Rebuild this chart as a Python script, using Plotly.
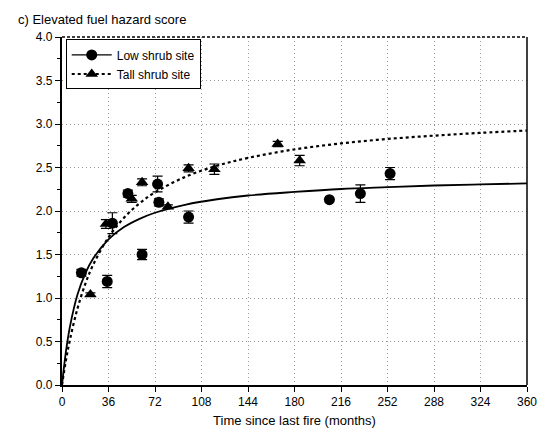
import plotly.graph_objects as go

# Observed site means (months since fire, elevated fuel hazard score, standard error)
low_months = [15, 35, 39, 51, 62, 74, 75, 98, 207, 231, 254]
low_score = [1.29, 1.19, 1.86, 2.20, 1.50, 2.31, 2.10, 1.93, 2.13, 2.20, 2.43]
low_err = [0.04, 0.07, 0.12, 0.04, 0.06, 0.09, 0.04, 0.07, 0.0, 0.10, 0.07]

tall_months = [22, 34, 54, 62, 82, 98, 118, 167, 184]
tall_score = [1.04, 1.85, 2.14, 2.33, 2.05, 2.49, 2.48, 2.77, 2.58]
tall_err = [0.02, 0.05, 0.04, 0.04, 0.02, 0.04, 0.06, 0.03, 0.06]

# Fitted accumulation curves
curve_months = [0, 3, 6, 12, 18, 24, 36, 48, 60, 72, 96, 120, 144, 180, 216, 252, 288, 324, 360]
low_fit = [0, 0.38, 0.66, 1.04, 1.28, 1.45, 1.675, 1.815, 1.91, 1.98, 2.074, 2.135, 2.178,
           2.219, 2.253, 2.274, 2.293, 2.306, 2.317]
tall_fit = [0, 0.28, 0.51, 0.88, 1.16, 1.378, 1.698, 1.922, 2.088, 2.214, 2.396, 2.52, 2.61,
            2.708, 2.777, 2.828, 2.866, 2.898, 2.925]

x_ticks = [0, 36, 72, 108, 144, 180, 216, 252, 288, 324, 360]
y_ticks = [0.0, 0.5, 1.0, 1.5, 2.0, 2.5, 3.0, 3.5, 4.0]

FONT = "Liberation Sans, Arial, sans-serif"
GRID = "#9a9a9a"

fig = go.Figure()

fig.add_trace(go.Scatter(
    x=curve_months, y=low_fit, mode="lines", line=dict(color="black", width=1.8, shape="spline"),
    showlegend=False, hoverinfo="skip"))
fig.add_trace(go.Scatter(
    x=curve_months, y=tall_fit, mode="lines", line=dict(color="black", width=2.2, dash="dot", shape="spline"),
    showlegend=False, hoverinfo="skip"))

fig.add_trace(go.Scatter(
    x=low_months, y=low_score, mode="markers",
    marker=dict(symbol="circle", size=11, color="black"),
    error_y=dict(type="data", array=low_err, color="black", thickness=1.2, width=5),
    showlegend=False))
fig.add_trace(go.Scatter(
    x=tall_months, y=tall_score, mode="markers",
    marker=dict(symbol="triangle-up", size=11, color="black"),
    error_y=dict(type="data", array=tall_err, color="black", thickness=1.2, width=5),
    showlegend=False))

# Legend entries
fig.add_trace(go.Scatter(
    x=[None], y=[None], mode="lines+markers", name="Low shrub site",
    line=dict(color="black", width=1.3), marker=dict(symbol="circle", size=11, color="black")))
fig.add_trace(go.Scatter(
    x=[None], y=[None], mode="lines+markers", name="Tall shrub site",
    line=dict(color="black", width=2, dash="dot"), marker=dict(symbol="triangle-up", size=11, color="black")))

# Frame: dashed top edge, solid right edge
fig.add_shape(type="line", xref="paper", yref="paper", x0=0, x1=1, y0=1, y1=1,
              line=dict(color="black", width=1.5, dash="3px,2px"))
fig.add_shape(type="line", xref="paper", yref="paper", x0=1, x1=1, y0=0, y1=1,
              line=dict(color="black", width=1.5))

fig.update_layout(
    width=548, height=437,
    margin=dict(l=62, r=11, t=37, b=50),
    paper_bgcolor="white", plot_bgcolor="white",
    font=dict(family=FONT, size=12, color="black"),
    showlegend=True,
    legend=dict(x=0.008, y=0.993, xanchor="left", yanchor="top",
                bordercolor="black", borderwidth=1, bgcolor="white",
                font=dict(family=FONT, size=12), tracegroupgap=0, itemwidth=40),
    xaxis=dict(range=[0, 360], tickvals=x_ticks, ticktext=[str(v) for v in x_ticks],
               showgrid=True, gridcolor=GRID, griddash="1px,3px", gridwidth=1,
               showline=True, linecolor="black", linewidth=1.5,
               ticks="outside", ticklen=5, tickcolor="black", tickwidth=1,
               zeroline=False,
               title=dict(text="Time since last fire (months)", font=dict(family=FONT, size=13), standoff=8)),
    yaxis=dict(range=[0, 4.0], tickvals=y_ticks, ticktext=[f"{v:.1f}" for v in y_ticks],
               showgrid=True, gridcolor=GRID, griddash="1px,3px", gridwidth=1,
               showline=True, linecolor="black", linewidth=2.2,
               ticks="outside", ticklen=5, tickcolor="black", tickwidth=1,
               minor=dict(dtick=0.25, ticks="outside", ticklen=3, tickcolor="black", showgrid=False),
               zeroline=False),
    annotations=[dict(text="c) Elevated fuel hazard score", xref="paper", yref="paper",
                      x=-0.098, y=1.05, xanchor="left", yanchor="middle", showarrow=False,
                      font=dict(family=FONT, size=13))],
)

fig.write_html("out.html")
